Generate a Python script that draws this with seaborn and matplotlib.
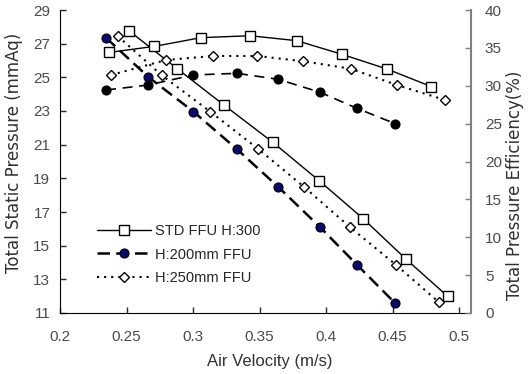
import matplotlib
matplotlib.use('Agg')
import matplotlib.pyplot as plt
import seaborn as sns

# STD FFU H:300 (squares, solid)
std_vel_p = [0.252, 0.288, 0.323, 0.360, 0.395, 0.428, 0.460, 0.4915]
std_pressure = [27.76, 25.52, 23.37, 21.14, 18.85, 16.6, 14.21, 11.99]
std_vel_e = [0.237, 0.271, 0.306, 0.343, 0.378, 0.412, 0.446, 0.479]
std_eff = [34.4, 35.2, 36.35, 36.6, 35.95, 34.15, 32.2, 29.9]

# H:200mm FFU (circles, dashed)
h200_vel = [0.2346, 0.2664, 0.3002, 0.3329, 0.3641, 0.3955, 0.4231, 0.4519]
h200_pressure = [27.35, 25.02, 22.97, 20.74, 18.49, 16.1, 13.88, 11.59]
h200_eff = [29.44, 30.1, 31.42, 31.64, 30.85, 29.14, 27.03, 25.0]

# H:250mm FFU (diamonds, dotted)
h250_vel_p = [0.2434, 0.2765, 0.3128, 0.3491, 0.3835, 0.418, 0.4526, 0.4847]
h250_pressure = [27.45, 25.12, 22.97, 20.74, 18.49, 16.1, 13.86, 11.65]
h250_vel_e = [0.2383, 0.2797, 0.3153, 0.3483, 0.3825, 0.4188, 0.4532, 0.4895]
h250_eff = [31.42, 33.4, 33.93, 33.93, 33.24, 32.24, 30.1, 28.12]

x_ticks = [0.2, 0.25, 0.3, 0.35, 0.4, 0.45, 0.5]
x_tick_labels = ['0.2', '0.25', '0.3', '0.35', '0.4', '0.45', '0.5']
left_ticks = [11, 13, 15, 17, 19, 21, 23, 25, 27, 29]
right_ticks = [0, 5, 10, 15, 20, 25, 30, 35, 40]

sns.set_style('white')
plt.rcParams['font.family'] = ['Liberation Sans', 'DejaVu Sans']

fig = plt.figure(figsize=(5.29, 3.74), dpi=100)
ax = fig.add_axes([60 / 529, 1 - 313 / 374, 411 / 529, 303 / 374])
ax2 = ax.twinx()

dash200 = (0, (5, 2.5))
dash200e = (0, (6, 4))
dot250 = (0, (1, 2.4))

# pressure curves (left axis)
sns.lineplot(x=std_vel_p, y=std_pressure, ax=ax, color='black', lw=1.0,
             marker='s', markersize=6.5, markerfacecolor='white',
             markeredgecolor='black', markeredgewidth=1.0, label='STD FFU H:300')
sns.lineplot(x=h200_vel, y=h200_pressure, ax=ax, color='black', lw=1.8,
             linestyle=dash200, marker='o', markersize=6.5, markerfacecolor='#0a0a6e',
             markeredgecolor='black', markeredgewidth=0.8, label='H:200mm FFU')
sns.lineplot(x=h250_vel_p, y=h250_pressure, ax=ax, color='black', lw=1.5,
             linestyle=dot250, marker='D', markersize=4.8, markerfacecolor='white',
             markeredgecolor='black', markeredgewidth=1.0, label='H:250mm FFU')

# efficiency curves (right axis)
sns.lineplot(x=std_vel_e, y=std_eff, ax=ax2, color='black', lw=1.0,
             marker='s', markersize=6.5, markerfacecolor='white',
             markeredgecolor='black', markeredgewidth=1.0)
sns.lineplot(x=h200_vel, y=h200_eff, ax=ax2, color='black', lw=1.2,
             linestyle=dash200e, marker='o', markersize=6.5, markerfacecolor='black',
             markeredgecolor='black', markeredgewidth=0.8)
sns.lineplot(x=h250_vel_e, y=h250_eff, ax=ax2, color='black', lw=1.5,
             linestyle=dot250, marker='D', markersize=4.8, markerfacecolor='white',
             markeredgecolor='black', markeredgewidth=1.0)

ax.set_xlim(0.2, 0.509)
ax.set_ylim(11, 29)
ax2.set_ylim(0, 40)
ax.set_xticks(x_ticks)
ax.set_xticklabels(x_tick_labels)
ax.set_yticks(left_ticks)
ax2.set_yticks(right_ticks)

tick_col = '#4a4a4a'
ax.tick_params(axis='x', direction='in', length=4, width=1, pad=12,
               labelsize=11, labelcolor=tick_col, bottom=True)
ax.tick_params(axis='y', direction='in', length=4, width=1, pad=7,
               labelsize=11, labelcolor=tick_col, left=True)
ax2.tick_params(axis='y', direction='in', length=4, width=1, pad=10,
                labelsize=11, labelcolor=tick_col, right=True, color='#808080')

for s in ['top', 'right']:
    ax.spines[s].set_visible(False)
for s in ['top', 'left', 'bottom']:
    ax2.spines[s].set_visible(False)
ax.spines['left'].set_color('black')
ax.spines['bottom'].set_color('black')
ax2.spines['right'].set_color('#808080')
ax2.spines['right'].set_linewidth(1.5)

ax.set_xlabel('Air Velocity (m/s)', fontsize=12, color='#303030')
ax.xaxis.set_label_coords(0.511, -0.135)
ax.set_ylabel('Total Static Pressure (mmAq)', fontsize=12, color='#303030',
              family='DejaVu Sans')
ax.yaxis.set_label_coords(-0.09, 0.53)
ax2.set_ylabel('Total Pressure Efficiency(%)', fontsize=12, color='#303030',
               family='DejaVu Sans', rotation=90)
ax2.yaxis.set_label_coords(1.085, 0.42)

ax.legend(loc='upper left', bbox_to_anchor=(0.09, 0.295), frameon=False,
          fontsize=10.5, handlelength=3.7, handletextpad=0.3, labelspacing=0.68,
          borderaxespad=0, borderpad=0, numpoints=1)
if ax2.get_legend() is not None:
    ax2.get_legend().remove()

fig.savefig('out.png', dpi=100)
